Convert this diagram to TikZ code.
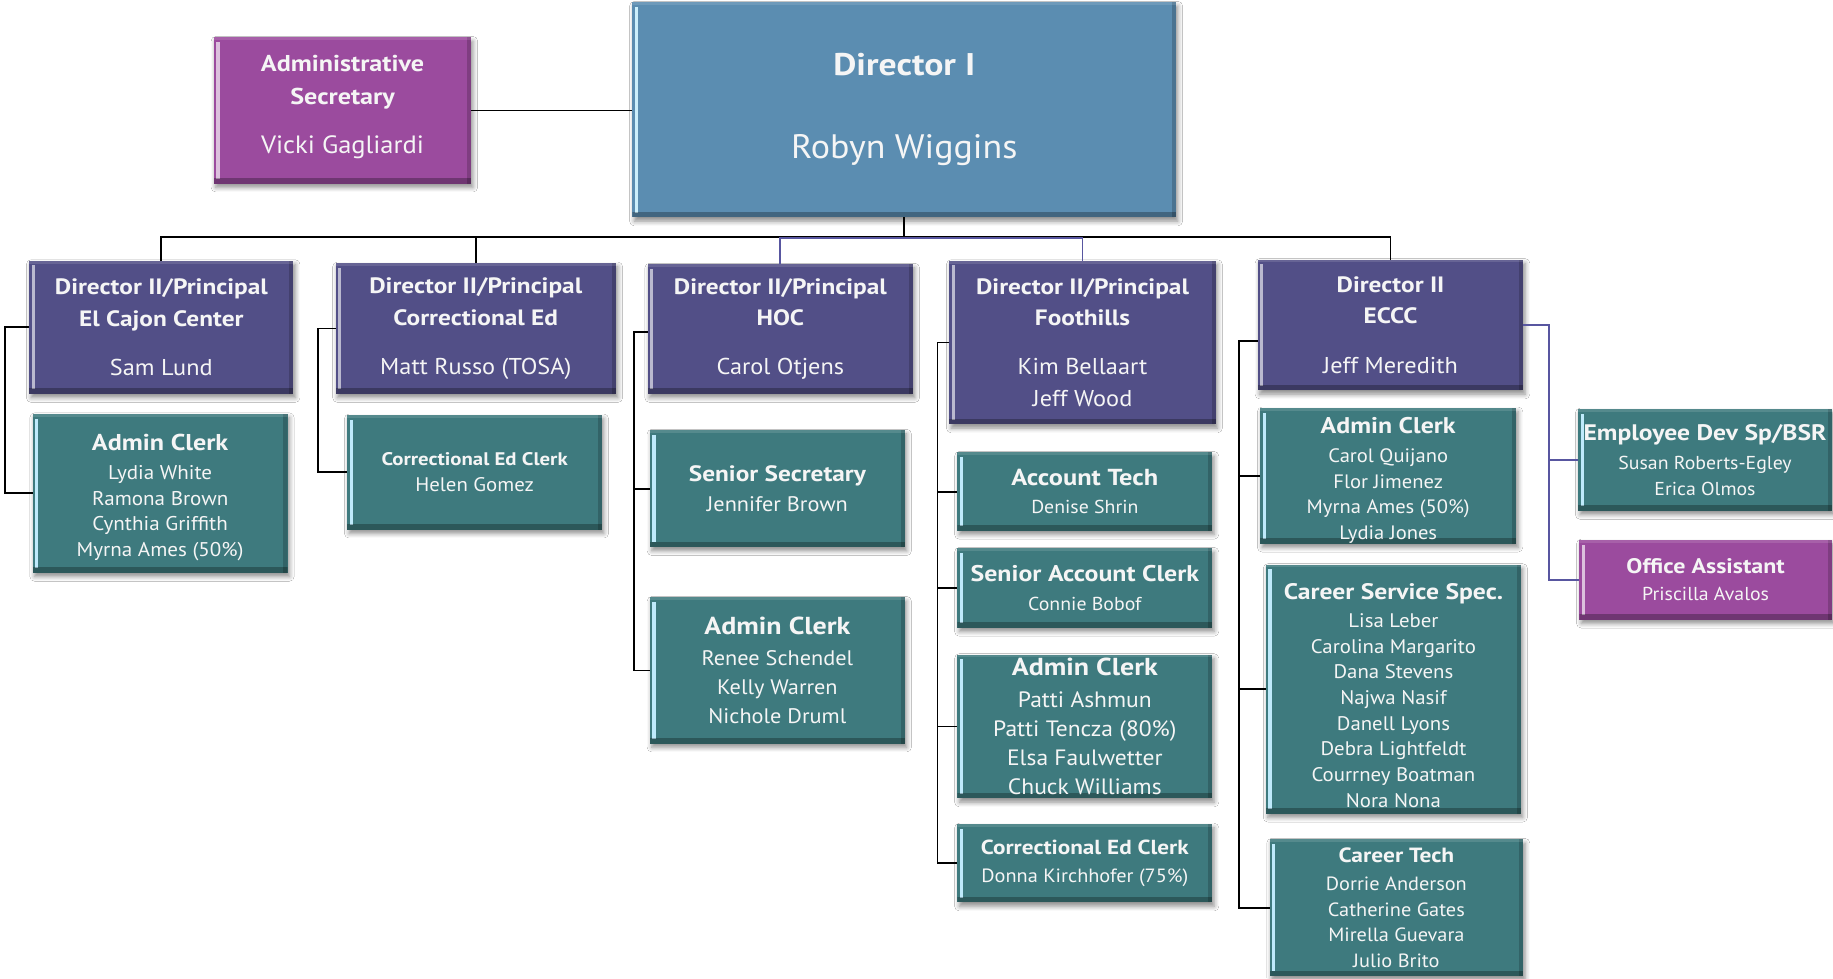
\documentclass[tikz,border=0pt]{standalone}
\usepackage{fontspec}
\setmainfont{PT Sans}[FakeStretch=1.06, BoldFeatures={FakeStretch=1.14}]
\usetikzlibrary{shadows.blur}
\definecolor{dirone}{RGB}{91,141,177}
\definecolor{dirtwo}{RGB}{82,79,135}
\definecolor{tealc}{RGB}{62,122,126}
\definecolor{purc}{RGB}{155,75,158}
\definecolor{pline}{RGB}{88,86,160}
\definecolor{txt}{RGB}{245,245,245}
\newcommand\hdr[2]{{\fontsize{#1}{#1}\selectfont\bfseries #2}}
\newcommand\tallrow[1]{\rule{0pt}{#1}}
\newcommand\deeprow[1]{\rule[-#1]{0pt}{1pt}}
\newcommand\placebox[7]{\node[#2, minimum width={(#5-#3)*0.5pt}, minimum height={(#6-#4)*0.5pt}] (#1) at ({(#3+#5)/2},{(#4+#6)/2}) {#7};}
\tikzset{
  box/.style={inner sep=0pt, outer sep=0pt, align=center, text=txt,
    blur shadow={shadow xshift=0.8pt, shadow yshift=-1.6pt, shadow blur steps=5, shadow opacity=45}},
  bevel/.style={path picture={
    \fill[#1] ([xshift=1.0pt,yshift=2pt]path picture bounding box.south west) rectangle ([xshift=2.4pt,yshift=-2pt]path picture bounding box.north west);
    \fill[black,opacity=0.28] (path picture bounding box.south west) rectangle ([yshift=2.4pt]path picture bounding box.south east);
    \fill[black,opacity=0.18] ([xshift=-1.8pt]path picture bounding box.south east) rectangle (path picture bounding box.north east);
    \fill[white,opacity=0.12] (path picture bounding box.north west) rectangle ([yshift=-1.2pt]path picture bounding box.north east);
  }},
  blueb/.style={box, fill=dirone, bevel={cyan!20!white}},
  dirb/.style={box, fill=dirtwo, bevel={dirtwo!40!white}},
  tealb/.style={box, fill=tealc, bevel={cyan!25!white}},
  purpb/.style={box, fill=purc, bevel={purc!35!white}},
  conn/.style={draw=black, line width=0.8pt},
  pconn/.style={draw=pline, line width=0.75pt},
}
\begin{document}
\begin{tikzpicture}[x=0.5pt, y=-0.5pt]
\fill[white] (0,0) rectangle (1568,837);
\useasboundingbox (0,0) rectangle (1568,837);

% top level
\placebox{dir1}{blueb, font=\fontsize{14.5}{18}\selectfont}{541}{2}{1006}{186}{\hdr{13.4}{Director I}\\[17.5pt]Robyn Wiggins}
\placebox{asec}{purpb, font=\fontsize{10.7}{14}\selectfont}{183}{32}{403}{157}{\hdr{9.8}{Administrative}\\\hdr{9.8}{Secretary}\\[7pt]Vicki Gagliardi\deeprow{5.3pt}}

% directors II
\placebox{d1}{dirb, font=\fontsize{9.8}{13.5}\selectfont}{25}{223}{251}{337}{\hdr{9.5}{Director II/Principal}\\\hdr{9.5}{El Cajon Center}\\[7.5pt]Sam Lund}
\placebox{d2}{dirb, font=\fontsize{9.8}{13.5}\selectfont}{287}{225}{527}{337}{\hdr{9.5}{Director II/Principal}\\\hdr{9.5}{Correctional Ed}\\[7.5pt]Matt Russo (TOSA)}
\placebox{d3}{dirb, font=\fontsize{9.8}{13.5}\selectfont}{554}{226}{781}{337}{\hdr{9.5}{Director II/Principal}\\\hdr{9.5}{HOC}\\[7.5pt]Carol Otjens}
\placebox{d4}{dirb, font=\fontsize{9.8}{13.5}\selectfont}{812}{223}{1040}{363}{\hdr{9.5}{Director II/Principal}\\\hdr{9.5}{Foothills}\\[7.5pt]Kim Bellaart\\Jeff Wood}
\placebox{d5}{dirb, font=\fontsize{9.8}{13.5}\selectfont}{1076}{222}{1303}{334}{\hdr{9.5}{Director II}\\\hdr{9.5}{ECCC}\\[7.5pt]Jeff Meredith}

% El Cajon
\placebox{c1}{tealb, font=\fontsize{8.5}{11}\selectfont}{28}{354}{246}{490}{\tallrow{10.4pt}\hdr{9.8}{Admin Clerk}\\[1.5pt]Lydia White\\Ramona Brown\\Cynthia Griffith\\Myrna Ames (50\%)}
% Correctional Ed
\placebox{c2}{tealb, font=\fontsize{8.4}{11}\selectfont}{297}{355}{515}{453}{\hdr{7.8}{Correctional Ed Clerk}\\Helen Gomez}
% HOC
\placebox{h1}{tealb, font=\fontsize{9}{13}\selectfont}{556}{368}{774}{468}{\hdr{9.5}{Senior Secretary}\\Jennifer Brown}
\placebox{h2}{tealb, font=\fontsize{9}{12.5}\selectfont}{556}{511}{774}{636}{\hdr{10.5}{Admin Clerk}\\[0.5pt]Renee Schendel\\Kelly Warren\\Nichole Druml}
% Foothills
\placebox{f1}{tealb, font=\fontsize{8}{12}\selectfont}{819}{387}{1037}{454}{\hdr{9.9}{Account Tech}\\Denise Shrin}
\placebox{f2}{tealb, font=\fontsize{8}{12}\selectfont}{819}{469}{1037}{537}{\hdr{9.7}{Senior Account Clerk}\\Connie Bobof}
\placebox{f3}{tealb, font=\fontsize{9.5}{12.5}\selectfont}{819}{560}{1037}{683}{\hdr{10.5}{Admin Clerk}\\[1pt]Patti Ashmun\\Patti Tencza (80\%)\\Elsa Faulwetter\\Chuck Williams}
\placebox{f4}{tealb, font=\fontsize{8.2}{12}\selectfont}{819}{705}{1037}{772}{\hdr{8.7}{Correctional Ed Clerk}\\Donna Kirchhofer (75\%)}
% ECCC
\placebox{e1}{tealb, font=\fontsize{8.3}{11}\selectfont}{1078}{350}{1297}{464}{\tallrow{10.8pt}\hdr{9.7}{Admin Clerk}\\[1.5pt]Carol Quijano\\Flor Jimenez\\Myrna Ames (50\%)\\Lydia Jones}
\placebox{e2}{tealb, font=\fontsize{8.4}{11}\selectfont}{1083}{483}{1301}{696}{\tallrow{12.2pt}\hdr{9.6}{Career Service Spec.}\\[1pt]Lisa Leber\\Carolina Margarito\\Dana Stevens\\Najwa Nasif\\Danell Lyons\\Debra Lightfeldt\\Courrney Boatman\\Nora Nona}
\placebox{e3}{tealb, font=\fontsize{8.2}{11}\selectfont}{1086}{718}{1303}{835}{\hdr{8.8}{Career Tech}\\[1pt]Dorrie Anderson\\Catherine Gates\\Mirella Guevara\\Julio Brito}
\placebox{emp}{tealb, font=\fontsize{8}{11}\selectfont}{1350}{350}{1567}{437}{\hdr{9.6}{Employee Dev Sp/BSR}\\[1.5pt]Susan Roberts-Egley\\Erica Olmos}
\placebox{off}{purpb, font=\fontsize{8}{11.5}\selectfont}{1351}{462}{1567}{530}{\hdr{9}{Office Assistant}\\Priscilla Avalos}

% connectors
\coordinate (bus) at (0,203);
\draw[conn] (asec.east) -- (asec.east -| dir1.west);
\draw[conn] (dir1.south) -- (dir1.south |- bus);
\draw[conn] (d1.north) -- (d1.north |- bus) -- (d5.north |- bus) -- (d5.north);
\draw[conn] (d2.north) -- (d2.north |- bus);
\draw[pconn] (d3.north) -- ([yshift=-0.3pt]d3.north |- bus) -- ([yshift=-0.3pt]d4.north |- bus) -- (d4.north);

\draw[conn] (d1.west) -- ++(-21,0) |- (c1.west);
\draw[conn] (d2.west) -- ++(-15,0) |- (c2.west);
\draw[conn] ([yshift=-1.2pt]d3.west) -- ++(-12,0) coordinate (t3) |- (h2.west);
\draw[conn] (t3) |- (h1.west);
\draw[conn] (d4.west) -- ++(-10,0) coordinate (t4) |- (f4.west);
\draw[conn] (t4) |- (f1.west);
\draw[conn] (t4) |- (f2.west);
\draw[conn] (t4) |- (f3.west);
\draw[conn] ([yshift=-7pt]d5.west) -- ++(-16,0) coordinate (t5) |- (e3.west);
\draw[conn] (t5) |- (e1.west);
\draw[conn] (t5) |- (e2.west);
\draw[pconn] (d5.east) -- ++(22,0) coordinate (t6) |- (off.west);
\draw[pconn] (t6) |- (emp.west);
\end{tikzpicture}
\end{document}
